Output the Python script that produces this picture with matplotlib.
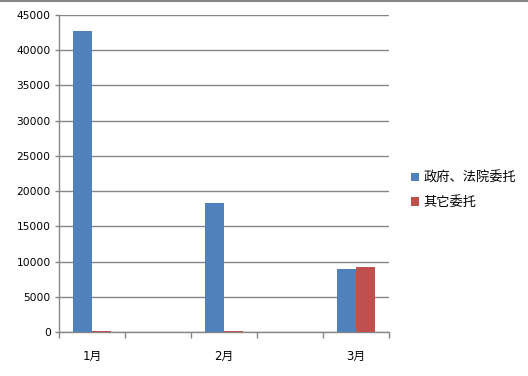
import matplotlib.pyplot as plt
import numpy as np

plt.rcParams['font.family'] = ['DejaVu Sans', 'Noto Sans CJK SC']

# data
months = ['1月', '', '2月', '', '3月']
gov_court = [42700, 0, 18300, 0, 8950]
others = [130, 0, 130, 0, 9230]
series_names = ['政府、法院委托', '其它委托']

blue = '#4F81BD'
red = '#C0504D'
grey = '#868686'

fig = plt.figure(figsize=(5.28, 3.76), dpi=100)
ax = fig.add_axes([59/528, 44/376, 330/528, 317/376])

x = np.arange(len(months))
w = 0.288
ax.bar(x - w/2, gov_court, w, color=blue, label=series_names[0], zorder=3)
ax.bar(x + w/2, others, w, color=red, label=series_names[1], zorder=3)

ax.set_xlim(-0.5, len(months) - 0.5)
ax.set_ylim(0, 45000)
ax.set_yticks(np.arange(0, 45001, 5000))
ax.grid(axis='y', color=grey, linewidth=1, zorder=0)

ax.set_xticks(x)
ax.set_xticklabels(months, fontsize=8.5)
ax.set_xticks(np.arange(-0.5, len(months), 1), minor=True)
ax.tick_params(axis='x', which='major', length=0, pad=13)
ax.tick_params(axis='x', which='minor', length=4, color=grey, width=1)
ax.tick_params(axis='y', length=3, color=grey, width=1, labelsize=7.7, pad=3)

for s in ['top', 'right']:
    ax.spines[s].set_visible(False)
for s in ['left', 'bottom']:
    ax.spines[s].set_color(grey)
    ax.spines[s].set_linewidth(1)

leg = ax.legend(loc='center left', bbox_to_anchor=(1.052, 0.447), frameon=False,
                prop={'family': ['Noto Sans CJK SC', 'DejaVu Sans'], 'size': 9.5},
                handlelength=0.6, handleheight=0.6, handletextpad=0.3,
                labelspacing=0.9, borderaxespad=0)

# chart border line along the top
fig.add_artist(plt.Line2D([0, 1], [0.998, 0.998], color=grey, linewidth=1.5,
                          transform=fig.transFigure))

fig.savefig('out.png', dpi=100)
